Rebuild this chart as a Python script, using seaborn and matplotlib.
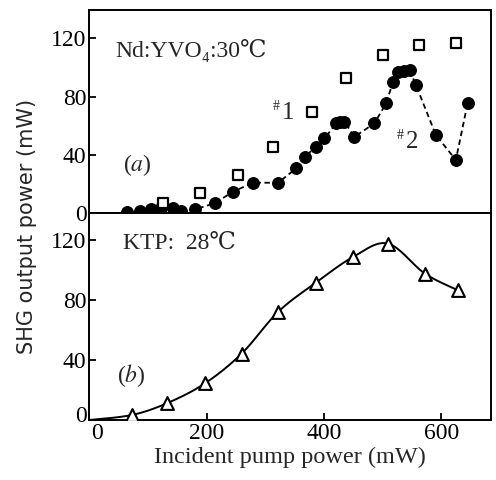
import numpy as np
import pandas as pd
import matplotlib
matplotlib.use('Agg')
import matplotlib.pyplot as plt
import matplotlib.transforms as mtrans
import seaborn as sns

# panel (a): Nd:YVO4 crystal, filled circles = #2, open squares = #1
a_x = [64, 86, 106, 123, 143, 157, 180, 214, 245, 279, 322, 353, 367, 387, 401,
       421, 428, 435, 452, 486, 506, 518, 526, 536, 546, 557, 591, 625, 645]
a_y = [1.1, 1.8, 2.7, 3.4, 3.4, 1.8, 2.7, 6.9, 14.8, 21, 21, 30.9, 38.8, 45.7, 51.4,
       61.7, 62.5, 62.9, 52.5, 61.7, 75.4, 90.3, 97.1, 97.5, 98.3, 88, 53.7, 36.6, 75.4]
sq_x = [126, 189, 254, 313, 379, 438, 501, 563, 625]
sq_y = [7.3, 13.7, 26.3, 45.7, 69.7, 92.6, 108.6, 115.4, 116.6]

# panel (b): KTP crystal, open triangles
b_x = [0, 72, 132, 197, 260, 322, 386, 450, 509, 572, 628]
b_y = [0, 3.3, 11.1, 24.4, 44.4, 72.2, 91.6, 108.9, 117.8, 97.8, 86.7]

dfa = pd.DataFrame({'x': a_x, 'y': a_y})
dfs = pd.DataFrame({'x': sq_x, 'y': sq_y})
dfb = pd.DataFrame({'x': b_x, 'y': b_y})


def smooth(x, y, n=20):
    # Catmull-Rom curve through the measured points
    x = np.asarray(x, float); y = np.asarray(y, float)
    px = np.r_[x[0], x, x[-1]]; py = np.r_[y[0], y, y[-1]]
    ox, oy = [], []
    t = np.linspace(0, 1, n, endpoint=False)
    for i in range(1, len(px) - 2):
        for p, o in ((px, ox), (py, oy)):
            p0, p1, p2, p3 = p[i - 1], p[i], p[i + 1], p[i + 2]
            o.extend(0.5 * (2 * p1 + (-p0 + p2) * t + (2 * p0 - 5 * p1 + 4 * p2 - p3) * t**2
                            + (-p0 + 3 * p1 - 3 * p2 + p3) * t**3))
    ox.append(x[-1]); oy.append(y[-1])
    return pd.DataFrame({'x': ox, 'y': oy})


sns.set_theme(style='ticks')
plt.rcParams['font.family'] = ['Liberation Serif', 'DejaVu Serif']
plt.rcParams['mathtext.fontset'] = 'stix'

fig = plt.figure(figsize=(4.96, 4.8), dpi=100)
ax1 = fig.add_axes([0.18, 0.5556, 0.81, 0.4234])
ax2 = fig.add_axes([0.18, 0.125, 0.81, 0.4306])

# top panel
sns.lineplot(data=dfa, x='x', y='y', ax=ax1, color='black', lw=1.3,
             linestyle=(0, (3, 2)), marker='o', markersize=8.5,
             markeredgecolor='black', markerfacecolor='black', sort=False)
sns.scatterplot(data=dfs, x='x', y='y', ax=ax1, marker='s', s=55,
                facecolor='white', edgecolor='black', linewidth=1.6, zorder=3)
ax1.set_xlim(0, 685)
ax1.set_ylim(0, 139.5)
ax1.set_yticks([0, 40, 80, 120])
ax1.set_xticks([])
ax1.set_xlabel('')
ax1.set_ylabel('')
ax1.text(45, 112, 'Nd:YVO\u2084:30\u2103', fontsize=17, va='center')
ax1.text(313, 69, '#', fontsize=10, va='bottom')
ax1.text(328, 69, '1', fontsize=18, va='center')
ax1.text(524, 49, '#', fontsize=10, va='bottom')
ax1.text(539, 49, '2', fontsize=18, va='center')
ax1.text(58, 33, '($a$)', fontsize=17, va='center')

# bottom panel
sns.lineplot(data=smooth(b_x, b_y), x='x', y='y', ax=ax2, color='black', lw=1.4, sort=False)
sns.scatterplot(data=dfb.iloc[1:], x='x', y='y', ax=ax2, marker='^', s=85,
                facecolor='white', edgecolor='black', linewidth=1.5, zorder=3)
ax2.set_xlim(0, 685)
ax2.set_ylim(0, 138)
ax2.set_yticks([0, 40, 80, 120])
ax2.set_xticks([0, 200, 400, 600])
ax2.set_ylabel('')
ax2.set_xlabel('Incident pump power (mW)', fontsize=17.5, labelpad=2)
ax2.text(58, 118, 'KTP:  28\u2103', fontsize=17, va='center')
ax2.text(47, 30, '($b$)', fontsize=17, va='center')

for ax in (ax1, ax2):
    for s in ax.spines.values():
        s.set_visible(True)
        s.set_linewidth(1.4)
        s.set_color('black')
    ax.tick_params(direction='in', length=5, width=1.3, labelsize=17, colors='black', pad=2)

# nudge the two "0" labels apart at the corner, as in the original
x0 = ax2.get_xticklabels()[0]
x0.set_transform(x0.get_transform() + mtrans.ScaledTranslation(0.08, 0, fig.dpi_scale_trans))
y0 = ax2.get_yticklabels()[0]
y0.set_transform(y0.get_transform() + mtrans.ScaledTranslation(0, 0.06, fig.dpi_scale_trans))

fig.text(0.054, 0.528, 'SHG output power (mW)', rotation=90, fontsize=15,
         ha='center', va='center', family='DejaVu Sans')

fig.savefig('out.png', dpi=100, facecolor='white')
